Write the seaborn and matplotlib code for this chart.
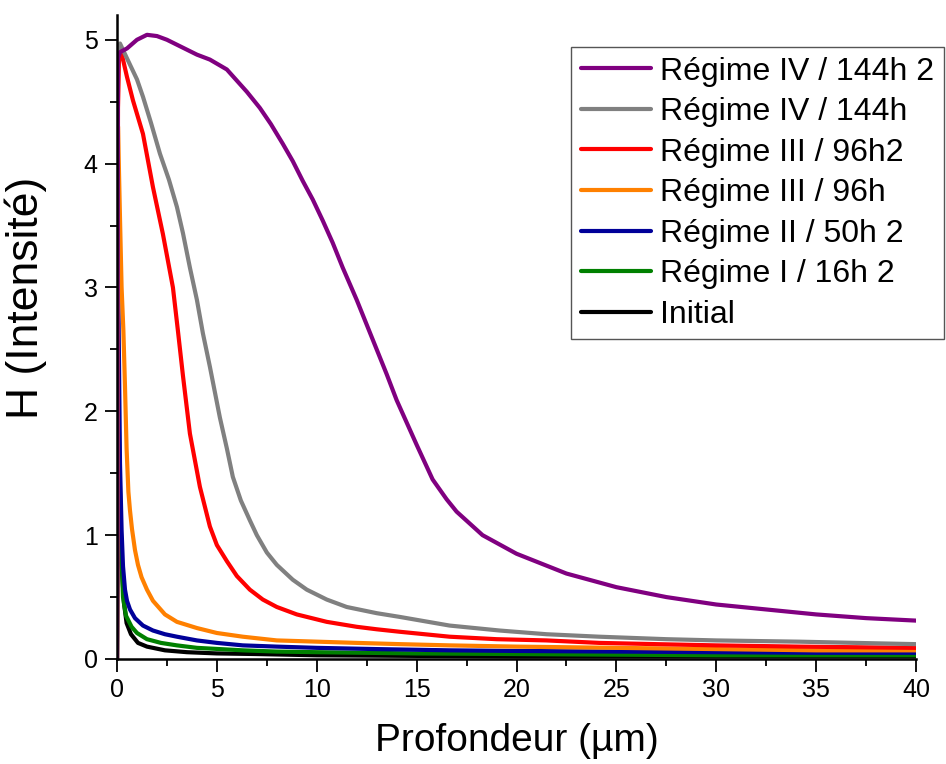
import numpy as np
import matplotlib
matplotlib.use("Agg")
import matplotlib.pyplot as plt
from matplotlib.ticker import MultipleLocator
import pandas as pd
import seaborn as sns

# Series (depth in um, H intensity)
labels = ["Régime IV / 144h 2", "Régime IV / 144h", "Régime III / 96h2",
          "Régime III / 96h", "Régime II / 50h 2", "Régime I / 16h 2", "Initial"]
colors = ["#800080", "#808080", "#FF0000", "#FF8000", "#000099", "#008000", "#000000"]

x_iv2 = [0, 0.05, 0.15, 0.5, 1.0, 1.5, 2.0, 2.5, 3.0, 3.5, 4.0, 4.65, 5.5, 6.0, 6.5, 7.15,
         7.7, 8.3, 8.8, 9.3, 9.8, 10.3, 10.8, 11.3, 12.0, 12.65, 13.0, 13.5, 14.0, 14.5,
         15.0, 15.8, 16.5, 17.0, 18.3, 20.0, 22.5, 25.0, 27.5, 30.0, 32.5, 35.0, 37.5, 40.0]
y_iv2 = [0, 4.85, 4.90, 4.93, 5.00, 5.04, 5.03, 5.00, 4.96, 4.92, 4.88, 4.84, 4.76, 4.67,
         4.58, 4.45, 4.32, 4.16, 4.02, 3.86, 3.71, 3.54, 3.36, 3.16, 2.90, 2.64, 2.50, 2.30,
         2.09, 1.91, 1.73, 1.45, 1.29, 1.19, 1.00, 0.85, 0.69, 0.58, 0.50, 0.44, 0.40, 0.36,
         0.33, 0.31]

x_iv = [0, 0.05, 0.15, 0.5, 1.0, 1.3, 1.7, 2.15, 2.6, 3.0, 3.3, 3.65, 4.0, 4.3, 4.65, 5.15,
        5.5, 5.8, 6.2, 6.65, 7.0, 7.5, 8.0, 8.8, 9.5, 10.5, 11.5, 13.0, 14.15, 16.65, 19.15,
        21.5, 24.15, 27.5, 30.0, 34.15, 37.0, 40.0]
y_iv = [0, 4.90, 4.97, 4.85, 4.68, 4.54, 4.33, 4.08, 3.87, 3.65, 3.44, 3.16, 2.90, 2.63,
        2.36, 1.95, 1.70, 1.47, 1.28, 1.12, 1.00, 0.86, 0.76, 0.64, 0.56, 0.48, 0.42, 0.37,
        0.34, 0.27, 0.23, 0.20, 0.18, 0.16, 0.15, 0.14, 0.13, 0.12]

x_iii2 = [0, 0.05, 0.1, 0.23, 0.5, 0.8, 1.3, 1.8, 2.3, 2.8, 3.05, 3.3, 3.65, 4.15, 4.65,
          5.0, 5.5, 6.0, 6.65, 7.3, 8.0, 9.0, 10.5, 12.0, 13.0, 14.15, 16.65, 19.0, 21.5,
          24.15, 27.0, 30.0, 34.15, 37.0, 40.0]
y_iii2 = [0, 4.45, 4.85, 4.89, 4.70, 4.51, 4.24, 3.81, 3.43, 3.00, 2.65, 2.29, 1.82, 1.39,
          1.07, 0.92, 0.79, 0.67, 0.56, 0.48, 0.42, 0.36, 0.30, 0.26, 0.24, 0.22, 0.18, 0.16,
          0.15, 0.13, 0.12, 0.11, 0.10, 0.095, 0.09]

x_iii = [0, 0.05, 0.15, 0.23, 0.32, 0.4, 0.48, 0.57, 0.65, 0.75, 0.9, 1.05, 1.23, 1.5, 1.8,
         2.4, 3.0, 4.0, 5.0, 6.3, 8.0, 10.0, 12.0, 14.15, 16.65, 20.0, 25.0, 30.0, 35.0, 40.0]
y_iii = [0, 4.30, 3.56, 3.00, 2.65, 2.20, 1.70, 1.35, 1.20, 1.05, 0.88, 0.76, 0.66, 0.56,
         0.47, 0.36, 0.30, 0.25, 0.21, 0.18, 0.15, 0.14, 0.13, 0.12, 0.11, 0.10, 0.09, 0.08,
         0.07, 0.07]

x_ii = [0, 0.05, 0.1, 0.15, 0.23, 0.3, 0.4, 0.5, 0.65, 0.9, 1.3, 1.8, 2.4, 3.0, 4.0, 5.0,
        6.3, 8.0, 10.0, 13.0, 16.65, 20.0, 25.0, 30.0, 35.0, 40.0]
y_ii = [0, 3.20, 2.40, 1.58, 1.04, 0.75, 0.56, 0.47, 0.40, 0.33, 0.27, 0.23, 0.20, 0.18,
        0.15, 0.13, 0.11, 0.10, 0.09, 0.08, 0.07, 0.065, 0.06, 0.055, 0.05, 0.05]

x_i = [0, 0.05, 0.12, 0.2, 0.3, 0.45, 0.73, 1.0, 1.5, 2.2, 3.0, 4.0, 6.3, 8.0, 10.0, 15.0,
       20.0, 25.0, 30.0, 35.0, 40.0]
y_i = [0, 2.30, 1.60, 0.99, 0.50, 0.35, 0.26, 0.21, 0.16, 0.13, 0.11, 0.09, 0.07, 0.06,
       0.055, 0.045, 0.04, 0.035, 0.03, 0.03, 0.03]

x_init = [0, 0.04, 0.1, 0.16, 0.23, 0.35, 0.48, 0.7, 1.05, 1.5, 2.4, 3.5, 5.0, 7.0, 10.0,
          15.0, 20.0, 30.0, 40.0]
y_init = [0, 1.60, 1.30, 1.00, 0.77, 0.45, 0.29, 0.20, 0.13, 0.10, 0.07, 0.055, 0.045,
          0.04, 0.03, 0.025, 0.02, 0.02, 0.02]

xs = [x_iv2, x_iv, x_iii2, x_iii, x_ii, x_i, x_init]
ys = [y_iv2, y_iv, y_iii2, y_iii, y_ii, y_i, y_init]

# long table for seaborn
frames = []
for lab, x, y in zip(labels, xs, ys):
    frames.append(pd.DataFrame({"x": x, "y": y, "serie": lab}))
df = pd.concat(frames, ignore_index=True)

sns.set_style("ticks")
plt.rcParams['font.family'] = ['Liberation Sans', 'DejaVu Sans']
plt.rcParams.update({'text.color': 'black', 'axes.labelcolor': 'black',
                     'xtick.color': 'black', 'ytick.color': 'black'})

fig = plt.figure(figsize=(9.46, 7.64), dpi=100)
ax = fig.add_axes([117/946, 1 - 659/764, 799/946, 644/764])

# draw back to front so purple ends on top (legend keeps the original order)
for lab, col in reversed(list(zip(labels, colors))):
    sns.lineplot(data=df[df["serie"] == lab], x="x", y="y", color=col, lw=3,
                 estimator=None, sort=False, label=lab, ax=ax)

ax.set_xlim(0, 40)
ax.set_ylim(0, 5.2)
ax.xaxis.set_major_locator(MultipleLocator(5))
ax.xaxis.set_minor_locator(MultipleLocator(2.5))
ax.yaxis.set_major_locator(MultipleLocator(1))
ax.yaxis.set_minor_locator(MultipleLocator(0.5))
ax.tick_params(which="major", length=9, width=1.3, labelsize=18, pad=5)
ax.tick_params(which="minor", length=5, width=1.3)
sns.despine(ax=ax)
for s in ["left", "bottom"]:
    ax.spines[s].set_linewidth(1.8)
    ax.spines[s].set_color("black")

ax.set_xlabel("Profondeur (µm)", fontsize=28, labelpad=15)
ax.set_ylabel("H (Intensité)", fontsize=32)
# Origin puts the y label a bit above the middle
ax.yaxis.set_label_coords(-0.088, 0.56)

handles, labs = ax.get_legend_handles_labels()
order = [labs.index(l) for l in labels]
leg = ax.legend([handles[i] for i in order], [labs[i] for i in order],
                loc="upper left", bbox_to_anchor=(571/946, 1 - 47/764),
                bbox_transform=fig.transFigure, borderaxespad=0, fontsize=23,
                handlelength=2.2, handletextpad=0.3, labelspacing=0.33,
                borderpad=0.3, frameon=True, fancybox=False, framealpha=1)
leg.get_frame().set_edgecolor("#555555")
leg.get_frame().set_linewidth(1.0)

fig.savefig("out.png", dpi=100)
